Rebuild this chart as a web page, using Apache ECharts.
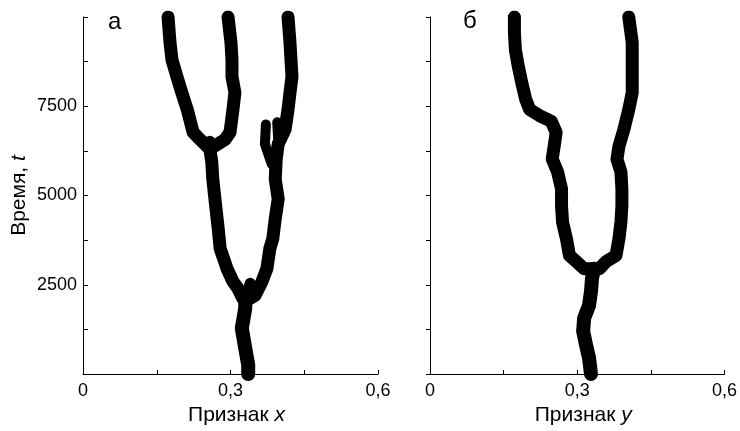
<!DOCTYPE html>
<html>
<head>
<meta charset="utf-8">
<script src="https://cdn.jsdelivr.net/npm/echarts@6/dist/echarts.min.js"></script>
<style>
  html, body { margin: 0; padding: 0; background: #fff; }
  #main { width: 740px; height: 431px; }
</style>
</head>
<body>
<div id="main"></div>
<script>
// Panel "а": trait x over time t, traced centre lines [x, t]
var aTrunk = [[0.336, 0], [0.336, 250], [0.330, 720], [0.323, 1280], [0.330, 1840], [0.330, 2260]];
var aLeft = [[0.325, 2120], [0.315, 2400], [0.305, 2590], [0.293, 2950], [0.279, 3510], [0.275, 4070],
             [0.269, 4820], [0.264, 5460], [0.262, 5930], [0.258, 6300]];
var aFarLeft = [[0.258, 6300], [0.238, 6570], [0.224, 6770], [0.212, 7410], [0.201, 7880],
                [0.191, 8330], [0.181, 8800], [0.177, 9280], [0.173, 10000]];
var aMiddle = [[0.258, 6300], [0.289, 6570], [0.299, 6770], [0.305, 7410], [0.309, 7880],
               [0.303, 8330], [0.303, 8800], [0.301, 9280], [0.295, 10000]];
var aRight = [[0.340, 2120], [0.350, 2200], [0.364, 2590], [0.374, 2950], [0.380, 3510], [0.386, 3790],
              [0.391, 4350], [0.397, 4900], [0.391, 5460], [0.393, 6020], [0.397, 6440], [0.411, 6850],
              [0.417, 7410], [0.421, 7880], [0.425, 8330], [0.421, 9280], [0.417, 10000]];
var aStub1 = [[0.384, 5880], [0.370, 6440], [0.372, 6990]];
var aStub2 = [[0.393, 6020], [0.397, 6570], [0.395, 7050]];
var aStub3 = [[0.330, 2100], [0.340, 2540]];
var aStub4 = [[0.258, 6200], [0.258, 6520]];

// Panel "б": trait y over time t
var bTrunk = [[0.328, 0], [0.324, 450], [0.318, 810], [0.312, 1200], [0.314, 1560], [0.324, 1920],
              [0.328, 2310], [0.330, 2670], [0.334, 2950]];
var bLeft = [[0.334, 2950], [0.314, 2950], [0.298, 3150], [0.284, 3320], [0.278, 3790], [0.270, 4260],
             [0.268, 4710], [0.268, 5180], [0.260, 5660], [0.249, 6020], [0.253, 6380], [0.257, 6770],
             [0.247, 7080], [0.223, 7240], [0.203, 7410], [0.195, 7690], [0.187, 8160], [0.180, 8610],
             [0.174, 9080], [0.172, 9560], [0.172, 10000]];
var bRight = [[0.334, 2950], [0.345, 2950], [0.359, 3150], [0.379, 3320], [0.385, 3790], [0.389, 4260],
              [0.391, 4710], [0.391, 5180], [0.389, 5660], [0.381, 6020], [0.385, 6380], [0.395, 6850],
              [0.405, 7410], [0.412, 7880], [0.412, 8330], [0.412, 8800], [0.412, 9280], [0.405, 10000]];

var xTicks = [0, 0.3, 0.6];
var yTicks = [2500, 5000, 7500];

var font = 'Liberation Sans, Arial, sans-serif';

function xLabel(v) {
  for (var i = 0; i < xTicks.length; i++) {
    if (Math.abs(v - xTicks[i]) < 1e-9) return v === 0 ? '0' : xTicks[i].toFixed(1).replace('.', ',');
  }
  return '';
}
function yLabel(v) {
  return yTicks.indexOf(v) >= 0 ? String(v) : '';
}

function band(data, xi, w) {
  return {
    type: 'line',
    xAxisIndex: xi,
    yAxisIndex: xi,
    data: data,
    symbol: 'none',
    silent: true,
    lineStyle: { color: '#000', width: w || 13, cap: 'round', join: 'round' }
  };
}

function xAxisFor(gi, name) {
  return {
    gridIndex: gi,
    type: 'value',
    min: 0,
    max: 0.6,
    interval: 0.15,
    name: name,
    nameLocation: 'middle',
    nameGap: 31,
    nameTextStyle: {
      color: '#000', fontSize: 21, fontFamily: font, padding: [0, 0, 0, 12],
      rich: { i: { fontStyle: 'italic', fontSize: 21, fontFamily: font, color: '#000' } }
    },
    axisLine: { lineStyle: { color: '#000', width: 1 } },
    axisTick: { inside: true, length: 4, lineStyle: { color: '#000' } },
    axisLabel: { formatter: xLabel, color: '#000', fontSize: 18, fontFamily: font, margin: 8, showMaxLabel: true, showMinLabel: true },
    splitLine: { show: false }
  };
}

var myChart = echarts.init(document.getElementById('main'));

var option = {
  animation: false,
  backgroundColor: '#fff',
  grid: [
    { left: 83, top: 17, width: 295, height: 359 },
    { left: 430, top: 17, width: 296, height: 359 }
  ],
  xAxis: [
    xAxisFor(0, 'Признак {i|x}'),
    xAxisFor(1, 'Признак {i|y}')
  ],
  yAxis: [
    {
      gridIndex: 0,
      type: 'value',
      min: 0,
      max: 10000,
      interval: 1250,
      name: 'Время, {i|t}',
      nameLocation: 'middle',
      nameGap: 53,
      nameTextStyle: {
        color: '#000', fontSize: 21, fontFamily: font,
        rich: { i: { fontStyle: 'italic', fontSize: 21, fontFamily: font, color: '#000' } }
      },
      axisLine: { show: true, lineStyle: { color: '#000', width: 1 } },
      axisTick: { show: true, inside: true, length: 5, lineStyle: { color: '#000' } },
      axisLabel: { formatter: yLabel, color: '#000', fontSize: 18, fontFamily: font, margin: 6 },
      splitLine: { show: false }
    },
    {
      gridIndex: 1,
      type: 'value',
      min: 0,
      max: 10000,
      interval: 1250,
      axisLine: { show: true, lineStyle: { color: '#000', width: 1 } },
      axisTick: { show: true, inside: false, length: 4, lineStyle: { color: '#000' } },
      axisLabel: { show: false },
      splitLine: { show: false }
    }
  ],
  graphic: [
    { type: 'text', left: 108, top: 10, style: { text: 'а', fontSize: 24, fontFamily: font, fill: '#000' } },
    { type: 'text', left: 463, top: 9, style: { text: 'б', fontSize: 24, fontFamily: font, fill: '#000' } }
  ],
  series: [
    band(aTrunk, 0, 14), band(aLeft, 0), band(aFarLeft, 0), band(aMiddle, 0), band(aRight, 0),
    band(aStub1, 0, 10), band(aStub2, 0, 10), band(aStub3, 0, 11), band(aStub4, 0, 11),
    band(bTrunk, 1, 14), band(bLeft, 1), band(bRight, 1)
  ]
};

myChart.setOption(option);
</script>
</body>
</html>
